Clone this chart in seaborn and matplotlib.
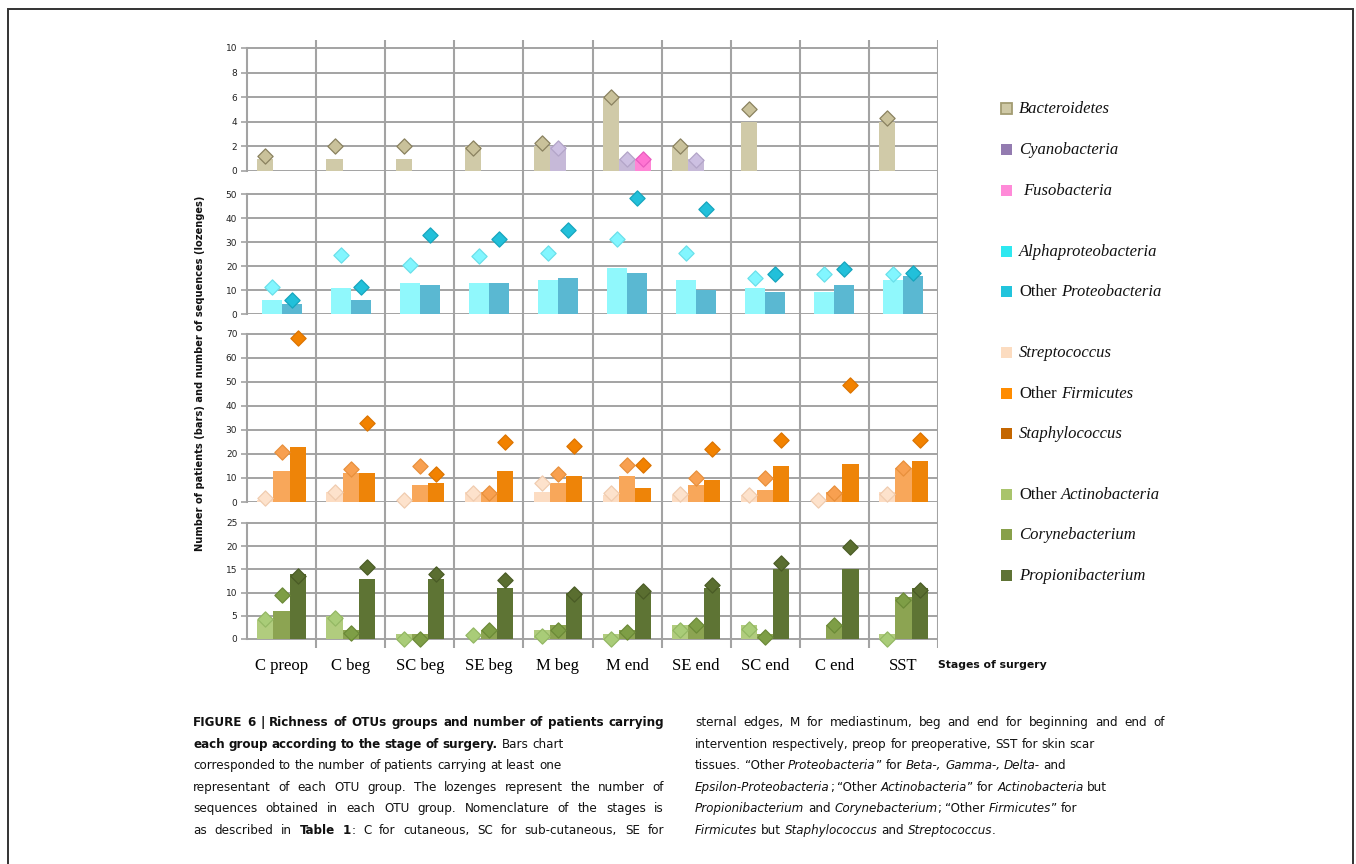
import numpy as np
import pandas as pd
import matplotlib
matplotlib.use("Agg")
import matplotlib.pyplot as plt
import seaborn as sns
from matplotlib import font_manager as fm
from matplotlib.patches import Rectangle

nan = np.nan

# ---------------- data ----------------
stages = ["C preop", "C beg", "SC beg", "SE beg", "M beg", "M end",
          "SE end", "SC end", "C end", "SST"]

# panel 1
bacteroidetes_patients = [1, 1, 1, 2, 2, 6, 2, 4, nan, 4]
bacteroidetes_seqs = [1.2, 2.0, 2.0, 1.9, 2.3, 6.0, 2.0, 5.0, nan, 4.3]
cyanobacteria_patients = [nan, nan, nan, nan, 2, 1, 1, nan, nan, nan]
cyanobacteria_seqs = [nan, nan, nan, nan, 1.9, 1.0, 0.9, nan, nan, nan]
fusobacteria_patients = [nan, nan, nan, nan, nan, 1, nan, nan, nan, nan]
fusobacteria_seqs = [nan, nan, nan, nan, nan, 1.0, nan, nan, nan, nan]

# panel 2
alpha_patients = [6, 11, 13, 13, 14, 19, 14, 11, 9, 14]
alpha_seqs = [11.2, 24.7, 20.5, 24.0, 25.4, 31.3, 25.4, 14.8, 16.8, 16.8]
otherproteo_patients = [4, 6, 12, 13, 15, 17, 10, 9, 12, 16]
otherproteo_seqs = [5.9, 11.2, 33.1, 31.3, 34.9, 48.5, 43.6, 16.8, 18.7, 17.0]

# panel 3
strepto_patients = [1, 4, 0, 4, 4, 3, 3, 3, 0, 4]
strepto_seqs = [1.7, 4.0, 1.0, 3.9, 8.0, 3.6, 3.3, 2.9, 0.8, 3.3]
otherfirm_patients = [13, 12, 7, 4, 8, 11, 7, 5, 4, 14]
otherfirm_seqs = [21.0, 13.7, 15.0, 3.6, 11.6, 15.3, 9.9, 10.2, 3.9, 14.0]
staph_patients = [23, 12, 8, 13, 11, 6, 9, 15, 16, 17]
staph_seqs = [68.2, 32.8, 11.6, 25.0, 23.2, 15.4, 22.0, 25.7, 48.7, 26.0]

# panel 4
otheractino_patients = [4, 5, 1, 0, 2, 1, 3, 3, 0, 1]
otheractino_seqs = [4.3, 4.5, 0.0, 0.9, 0.7, 0.0, 2.0, 2.1, nan, 0.0]
coryne_patients = [6, 2, 1, 2, 3, 2, 3, 1, 3, 9]
coryne_seqs = [9.4, 1.2, 0.1, 2.0, 2.0, 1.4, 3.0, 0.4, 3.0, 8.3]
propioni_patients = [14, 13, 13, 11, 10, 10, 11, 15, 15, 11]
propioni_seqs = [13.5, 15.4, 14.0, 12.7, 9.6, 10.3, 11.6, 16.3, 19.9, 10.5]

# ---------------- figure ----------------
W, H = 1356, 864
fig = plt.figure(figsize=(W / 100, H / 100), dpi=100)
fig.patch.set_facecolor("white")


def fx(px):
    return px / W


def fy(py):
    return 1 - py / H


entries = fm.fontManager.ttflist
names = {f.name for f in entries}
if "Liberation Sans Narrow" in names:
    CAP_KW = dict(family="Liberation Sans Narrow")
elif any(f.name == "DejaVu Sans" and str(f.stretch) in ("condensed", "semi-condensed")
         for f in entries):
    CAP_KW = dict(family="DejaVu Sans", fontstretch="condensed")
elif "Roboto" in names:
    CAP_KW = dict(family="Roboto")
else:
    CAP_KW = dict(family="DejaVu Sans")
SERIF = "Liberation Serif"

GRID = "#a3a3a3"
LEFT, RIGHT = 247, 938

panels = [
    dict(top=40, bottom=171, ylim=(0, 10.65), ticks=list(range(0, 11, 2)), width=0.70,
         groups=["Bacteroidetes", "Cyanobacteria", "Fusobacteria"],
         patients=[bacteroidetes_patients, cyanobacteria_patients, fusobacteria_patients],
         seqs=[bacteroidetes_seqs, cyanobacteria_seqs, fusobacteria_seqs],
         bar_colors=["#d0caa8", "#c6b9d8", "#ff86d6"],
         dia_colors=["#c9c19a", "#cdc0e2", "#ff74d2"],
         dia_edges=["#8a8260", "#b3a5c8", "#e85cc0"]),
    dict(top=171, bottom=314, ylim=(0, 59.6), ticks=list(range(0, 51, 10)), width=0.58,
         groups=["Alphaproteobacteria", "Other Proteobacteria"],
         patients=[alpha_patients, otherproteo_patients],
         seqs=[alpha_seqs, otherproteo_seqs],
         bar_colors=["#90f8fc", "#5ab8d2"],
         dia_colors=["#82f6ff", "#22c0da"],
         dia_edges=["#6ae0ea", "#16a6be"]),
    dict(top=314, bottom=502, ylim=(0, 78.3), ticks=list(range(0, 71, 10)), width=0.70,
         groups=["Streptococcus", "Other Firmicutes", "Staphylococcus"],
         patients=[strepto_patients, otherfirm_patients, staph_patients],
         seqs=[strepto_seqs, otherfirm_seqs, staph_seqs],
         bar_colors=["#fcdcc2", "#f8a75a", "#ee8408"],
         dia_colors=["#fde2cc", "#f8a050", "#f28200"],
         dia_edges=["#f0ccb0", "#e8903c", "#dc7400"]),
    dict(top=502, bottom=648, ylim=(-1.94, 29.5), ticks=list(range(0, 26, 5)), width=0.70,
         groups=["Other Actinobacteria", "Corynebacterium", "Propionibacterium"],
         patients=[otheractino_patients, coryne_patients, propioni_patients],
         seqs=[otheractino_seqs, coryne_seqs, propioni_seqs],
         bar_colors=["#b1cc7e", "#8ca452", "#5e7434"],
         dia_colors=["#a9cc78", "#7e9e46", "#5a6e30"],
         dia_edges=["#94b864", "#6c8a38", "#4a5c26"]),
]

axes = []
for i, p in enumerate(panels):
    ax = fig.add_axes([fx(LEFT), fy(p["bottom"]), fx(RIGHT) - fx(LEFT),
                       (p["bottom"] - p["top"]) / H])
    ax.set_facecolor("none")
    rows = []
    for g, pats, seqs in zip(p["groups"], p["patients"], p["seqs"]):
        for s, pv, sv in zip(stages, pats, seqs):
            rows.append(dict(stage=s, group=g, patients=pv, sequences=sv))
    df = pd.DataFrame(rows)
    df["xpos"] = df["stage"].map({s: k for k, s in enumerate(stages)}).astype(float)

    bars = df.dropna(subset=["patients"])
    sns.barplot(data=bars, x="stage", y="patients", hue="group", order=stages,
                hue_order=p["groups"], palette=dict(zip(p["groups"], p["bar_colors"])),
                width=p["width"], dodge=True, errorbar=None, saturation=1,
                legend=False, linewidth=0, ax=ax, zorder=2)

    n = len(p["groups"])
    for j, g in enumerate(p["groups"]):
        off = (j - (n - 1) / 2) * p["width"] / n
        sub = df[(df["group"] == g)].dropna(subset=["sequences"]).copy()
        sub["xd"] = sub["xpos"] + off
        sns.scatterplot(data=sub, x="xd", y="sequences", marker="D", s=60,
                        color=p["dia_colors"][j], edgecolor=p["dia_edges"][j],
                        linewidth=0.9, legend=False, ax=ax, zorder=4, clip_on=False)

    ax.set_xlim(-0.5, len(stages) - 0.5)
    ax.set_ylim(*p["ylim"])
    ax.set_yticks(p["ticks"])
    ax.set_yticklabels([str(t) for t in p["ticks"]])
    ax.yaxis.grid(True, color=GRID, lw=1.4)
    ax.set_axisbelow(True)
    for k in range(1, len(stages) + 1):
        ax.axvline(k - 0.5, color=GRID, lw=1.5, zorder=0.8)
    for side in ["top", "right", "bottom"]:
        ax.spines[side].set_visible(False)
    ax.spines["left"].set_color(GRID)
    ax.spines["left"].set_linewidth(1.5)
    ax.spines["left"].set_bounds(0, p["ticks"][-1])
    ax.tick_params(axis="y", length=4, width=1.2, color=GRID, labelsize=6.5,
                   pad=3, labelcolor="#222222")
    ax.set_xlabel("")
    ax.set_ylabel("")
    if i < len(panels) - 1:
        ax.tick_params(axis="x", length=0, labelbottom=False)
    else:
        ax.set_xticks(range(len(stages)))
        ax.set_xticklabels(stages, fontfamily=SERIF, fontsize=12)
        ax.tick_params(axis="x", length=0, pad=7)
    axes.append(ax)

renderer = fig.canvas.get_renderer()


def fit_size(txt, target, size=10.0, **kw):
    t = fig.text(0, 0, txt, fontsize=size, **kw)
    e = t.get_window_extent(renderer)
    L = e.height if kw.get("rotation", 0) == 90 else e.width
    t.remove()
    return size * target / L


def draw_rich(segments, x_px, y_px, size, fkw, justify=None, color="#111111"):
    words = [[]]
    for text, style in segments:
        parts = text.split(" ")
        for k, part in enumerate(parts):
            if k > 0:
                words.append([])
            if part:
                words[-1].append((part, style))
    words = [w for w in words if w]

    def props(style):
        return dict(fontweight="bold" if "b" in style else "normal",
                    fontstyle="italic" if "i" in style else "normal")

    t = fig.text(0, 0, "x x", fontsize=size, **fkw)
    w1 = t.get_window_extent(renderer).width
    t.remove()
    t = fig.text(0, 0, "xx", fontsize=size, **fkw)
    w2 = t.get_window_extent(renderer).width
    t.remove()
    space = w1 - w2

    objs, widths = [], []
    for word in words:
        wobjs, ww = [], 0
        for part, st in word:
            t = fig.text(0, fy(y_px), part, fontsize=size, va="baseline", ha="left",
                         color=color, **fkw, **props(st))
            w = t.get_window_extent(renderer).width
            wobjs.append((t, w))
            ww += w
        objs.append(wobjs)
        widths.append(ww)
    gap = space
    if justify is not None and len(words) > 1:
        gap = max((justify - sum(widths)) / (len(words) - 1), 0.6 * space)
    x = x_px
    for wobjs, ww in zip(objs, widths):
        xx = x
        for t, w in wobjs:
            t.set_x(fx(xx))
            xx += w
        x += ww + gap


# y-axis label
ylab = "Number of patients (bars) and number of sequences (lozenges)"
ys = fit_size(ylab, 357, family="DejaVu Sans", fontweight="bold", rotation=90)
fig.text(fx(200), fy(373), ylab, rotation=90, fontsize=ys, family="DejaVu Sans",
         fontweight="bold", ha="center", va="center", color="#111111")

# x-axis title
xs = fit_size("Stages of surgery", 109, family="DejaVu Sans", fontweight="bold")
fig.text(fx(938), fy(665), "Stages of surgery", fontsize=xs, family="DejaVu Sans",
         fontweight="bold", ha="left", va="center", color="#111111")

# legend
legend_items = [
    ([("Bacteroidetes", "i")], "#cfc9a6", "#a39c72", 108, 1019),
    ([("Cyanobacteria", "i")], "#937bb0", None, 149, 1019),
    ([("Fusobacteria", "i")], "#ff8ad8", None, 190, 1023),
    ([("Alphaproteobacteria", "i")], "#2ee8f0", None, 251, 1019),
    ([("Other ", "r"), ("Proteobacteria", "i")], "#22c4dc", None, 291, 1019),
    ([("Streptococcus", "i")], "#fcdcc0", None, 352, 1019),
    ([("Other ", "r"), ("Firmicutes", "i")], "#ff8c00", None, 393, 1019),
    ([("Staphylococcus", "i")], "#c46600", None, 433, 1019),
    ([("Other ", "r"), ("Actinobacteria", "i")], "#a9c46c", None, 494, 1019),
    ([("Corynebacterium", "i")], "#88a04a", None, 534, 1019),
    ([("Propionibacterium", "i")], "#5f7335", None, 575, 1019),
]
for segs, col, edge, yc, xt in legend_items:
    fig.add_artist(Rectangle((fx(1001), fy(yc + 6)), 11 / W, 11 / H,
                             transform=fig.transFigure, facecolor=col,
                             edgecolor=edge if edge else col, lw=1.3 if edge else 0))
    draw_rich(segs, xt, yc + 5, 12, dict(family=SERIF))

# caption
cs = min(
    fit_size("representant of each OTU group. The lozenges represent the number of",
             458, **CAP_KW),
    fit_size("FIGURE 6 | Richness of OTUs groups and number of patients carrying",
             462, fontweight="bold", **CAP_KW),
    fit_size("sternal edges, M for mediastinum, beg and end for beginning and end of",
             458, **CAP_KW),
    fit_size("as described in Table 1: C for cutaneous, SC for sub-cutaneous, SE for",
             458, **CAP_KW),
)
left_lines = [
    ([("FIGURE 6 | Richness of OTUs groups and number of patients carrying", "b")], 471),
    ([("each group according to the stage of surgery.", "b"), (" Bars chart", "r")], None),
    ([("corresponded to the number of patients carrying at least one", "r")], None),
    ([("representant of each OTU group. The lozenges represent the number of", "r")], 471),
    ([("sequences obtained in each OTU group. Nomenclature of the stages is", "r")], 471),
    ([("as described in ", "r"), ("Table 1", "b"),
      (": C for cutaneous, SC for sub-cutaneous, SE for", "r")], 471),
]
right_lines = [
    ([("sternal edges, M for mediastinum, beg and end for beginning and end of", "r")], 470),
    ([("intervention respectively, preop for preoperative, SST for skin scar", "r")], None),
    ([("tissues. \u201cOther ", "r"), ("Proteobacteria", "i"), ("\u201d for ", "r"),
      ("Beta-, Gamma-, Delta-", "i"), (" and", "r")], None),
    ([("Epsilon-Proteobacteria", "i"), ("; \u201cOther ", "r"), ("Actinobacteria", "i"),
      ("\u201d for ", "r"), ("Actinobacteria", "i"), (" but", "r")], None),
    ([("Propionibacterium", "i"), (" and ", "r"), ("Corynebacterium", "i"),
      ("; \u201cOther ", "r"), ("Firmicutes", "i"), ("\u201d for", "r")], None),
    ([("Firmicutes", "i"), (" but ", "r"), ("Staphylococcus", "i"), (" and ", "r"),
      ("Streptococcus", "i"), (".", "r")], None),
]
base0 = 726
for k, (segs, just) in enumerate(left_lines):
    draw_rich(segs, 193, base0 + k * 21.6, cs, CAP_KW, justify=just)
for k, (segs, just) in enumerate(right_lines):
    draw_rich(segs, 695, base0 + k * 21.6, cs, CAP_KW, justify=just)

# outer frame
fig.add_artist(Rectangle((fx(8), -0.2), fx(1353) - fx(8), fy(9) + 0.2,
                         transform=fig.transFigure, fill=False, lw=1.4,
                         edgecolor="#333333"))

fig.savefig("out.png", dpi=100, facecolor="white")
